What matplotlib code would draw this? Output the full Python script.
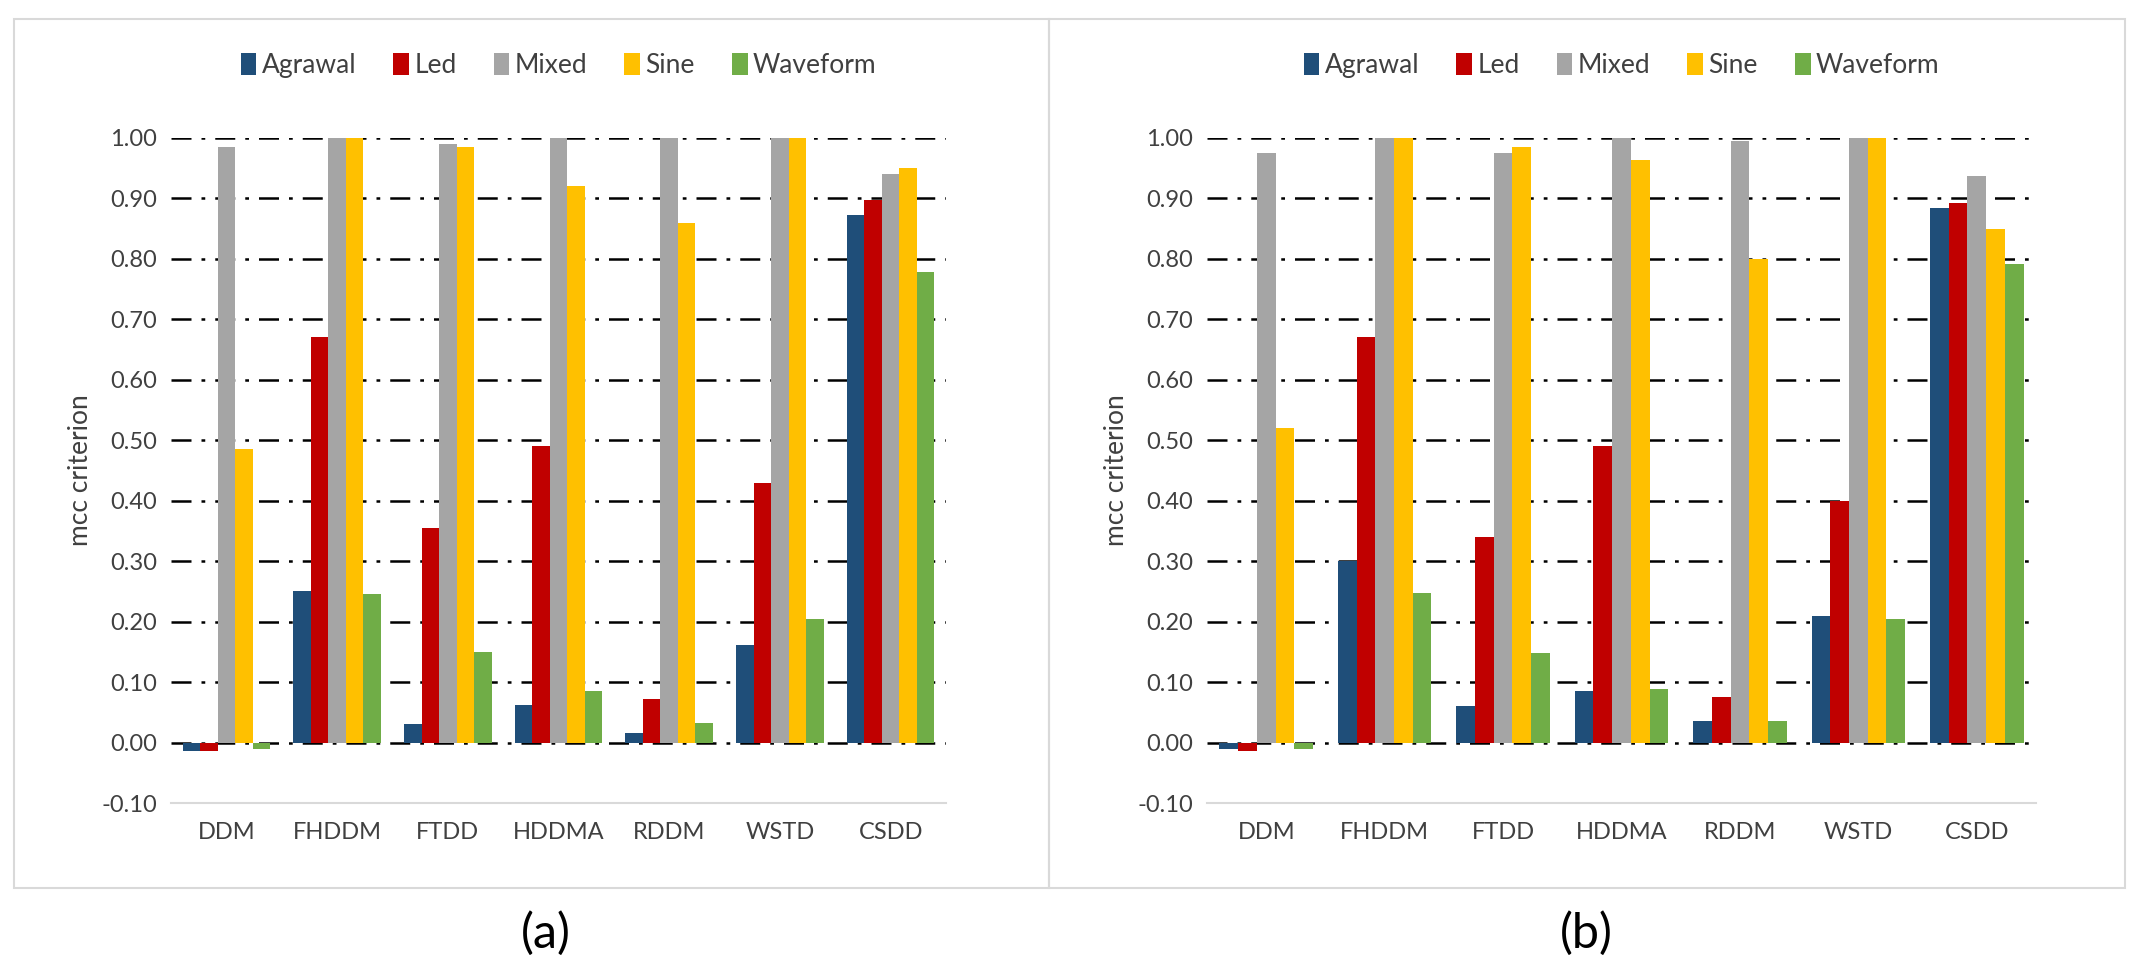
import matplotlib
matplotlib.use("Agg")
import matplotlib.pyplot as plt
import numpy as np
from matplotlib.patches import Rectangle

plt.rcParams['font.family'] = ['Lato', 'DejaVu Sans']

categories = ["DDM", "FHDDM", "FTDD", "HDDMA", "RDDM", "WSTD", "CSDD"]
series = ["Agrawal", "Led", "Mixed", "Sine", "Waveform"]
colors = ["#1F4E79", "#C00000", "#A5A5A5", "#FFC000", "#70AD47"]
yticks = [-0.10, 0.00, 0.10, 0.20, 0.30, 0.40, 0.50, 0.60, 0.70, 0.80, 0.90, 1.00]

# panel (a)
a_agrawal = [-0.014, 0.250, 0.030, 0.062, 0.015, 0.162, 0.873]
a_led = [-0.014, 0.670, 0.355, 0.490, 0.072, 0.430, 0.898]
a_mixed = [0.985, 1.000, 0.990, 1.000, 1.000, 1.000, 0.940]
a_sine = [0.485, 1.000, 0.985, 0.920, 0.860, 1.000, 0.950]
a_waveform = [-0.010, 0.245, 0.150, 0.085, 0.032, 0.205, 0.778]

# panel (b)
b_agrawal = [-0.010, 0.300, 0.060, 0.085, 0.035, 0.210, 0.885]
b_led = [-0.014, 0.670, 0.340, 0.490, 0.075, 0.400, 0.893]
b_mixed = [0.975, 1.000, 0.975, 1.000, 0.995, 1.000, 0.937]
b_sine = [0.520, 1.000, 0.985, 0.963, 0.800, 1.000, 0.850]
b_waveform = [-0.010, 0.248, 0.148, 0.088, 0.035, 0.205, 0.792]

panels = [
    ("(a)", [a_agrawal, a_led, a_mixed, a_sine, a_waveform]),
    ("(b)", [b_agrawal, b_led, b_mixed, b_sine, b_waveform]),
]

W, H = 2150, 955
fig = plt.figure(figsize=(W / 100, H / 100), dpi=100)

axes_rects = [
    (171, 138, 946, 803),
    (1207, 138, 2036, 803),
]
borders = [(14, 19, 1049, 888), (1049, 19, 2125, 888)]
label_x = [546, 1586]

tick_color = "#404040"
bw = 0.158

for (label, data), (l, t, r, b), (bl, bt, br, bb), lx in zip(panels, axes_rects, borders, label_x):
    # panel border
    fig.patches.append(Rectangle((bl / W, 1 - bb / H), (br - bl) / W, (bb - bt) / H,
                                 transform=fig.transFigure, fill=False,
                                 edgecolor="#D9D9D9", linewidth=1.5, zorder=0))
    ax = fig.add_axes([l / W, 1 - b / H, (r - l) / W, (b - t) / H])
    x = np.arange(len(categories))
    handles = []
    for i, (vals, c, name) in enumerate(zip(data, colors, series)):
        h = ax.bar(x + (i - 2) * bw, vals, width=bw, color=c, label=name, zorder=3)
        handles.append(h)
    ax.set_ylim(-0.10, 1.00)
    ax.set_xlim(-0.5, len(categories) - 0.5)
    ax.set_yticks(yticks)
    ax.set_yticklabels([f"{v:.2f}" for v in yticks], color=tick_color, fontsize=17)
    ax.set_xticks(x)
    ax.set_xticklabels(categories, color=tick_color, fontsize=17)
    ax.tick_params(axis="both", length=0, pad=10)
    ax.tick_params(axis="x", pad=14)
    for s in ["top", "right", "left"]:
        ax.spines[s].set_visible(False)
    ax.spines["bottom"].set_color("#D9D9D9")
    ax.spines["bottom"].set_linewidth(1.5)
    ax.yaxis.grid(True, linestyle=(0, (8, 4, 1.5, 4)), color="black", linewidth=1.8, zorder=1)
    ax.set_axisbelow(True)
    gl = ax.get_ygridlines()
    gl[0].set_visible(False)
    ax.set_ylabel("mcc criterion", color=tick_color, fontsize=19, labelpad=6)
    ax.legend(handles=handles, loc="lower center", bbox_to_anchor=(0.5, 1.0 + 36 / (b - t)),
              ncol=5, frameon=False, fontsize=19, handlelength=0.6, handleheight=0.9,
              handletextpad=0.2, columnspacing=1.4, labelcolor=tick_color)
    fig.text(lx / W, 1 - 933 / H, label, fontsize=35, ha="center", va="center", color="black")

fig.savefig("out.png", dpi=100, facecolor="white")
